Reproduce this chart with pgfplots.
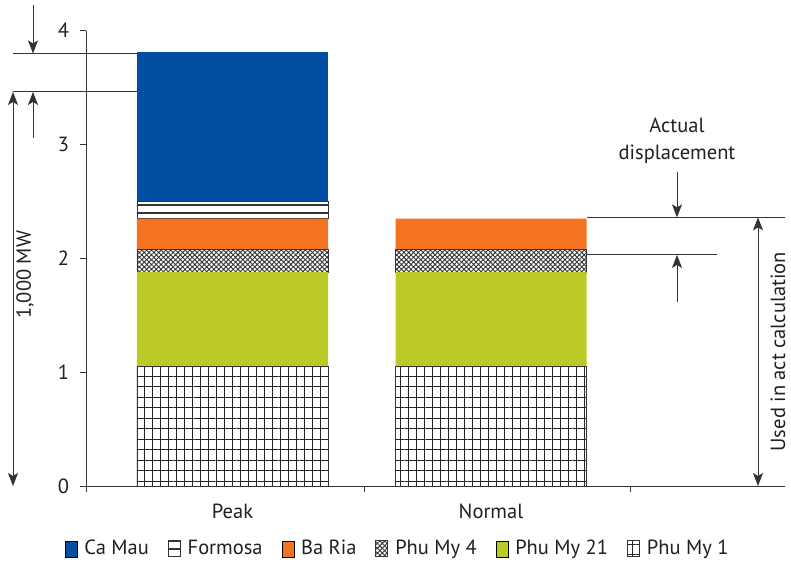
\documentclass[border=0pt]{standalone}
\usepackage{fontspec}
\setmainfont{PT Sans}
\usepackage{pgfplots}
\pgfplotsset{compat=1.18}
\usetikzlibrary{patterns,patterns.meta,arrows.meta}
\definecolor{camau}{HTML}{024EA2}
\definecolor{baria}{HTML}{F37321}
\definecolor{pmtw}{HTML}{BBCA27}
\definecolor{axc}{HTML}{333333}
\definecolor{txt}{HTML}{231F20}
\newcommand{\fs}{\fontsize{20.5bp}{24bp}\selectfont}
\begin{document}
\fs
\begin{tikzpicture}[>={Stealth[length=13bp,width=10bp,inset=3bp]}]
\begin{axis}[name=ax,
  scale only axis, width=699bp, height=455.3bp,
  xmin=86, xmax=785, ymin=0, ymax=4,
  axis lines*=left,
  ytick={0,1,2,3,4},
  xtick={86,364,630}, xticklabels={},
  extra x ticks={232.5,491}, extra x tick labels={Peak,Normal},
  extra x tick style={major tick length=0pt, tick label style={yshift=-11bp}},
  tick align=outside, major tick length=6bp,
  axis line style={axc, line width=0.9pt}, tick style={axc, line width=0.9pt},
  yticklabel style={xshift=-4bp},
  ybar stacked, bar width=191,
  clip=false,
  /pgf/number format/assume math mode=true,
  tick label style={font=\fs, text=txt},
  reverse legend,
  legend columns=6,
  legend style={at={(0.446,-0.138)}, anchor=center, draw=none, fill=none,
    font=\fs, text=txt,
    /tikz/every even column/.append style={column sep=17bp},
    /tikz/every odd column/.append style={column sep=5bp}},
  legend image code/.code={\draw[#1] (0bp,-8bp) rectangle (12bp,8bp);},
]
% Phu My 1
\addplot[draw=axc, line width=0.8pt,
  pattern={Lines[angle=90,distance=8bp,line width=0.9pt]}, pattern color=black!85,
  postaction={pattern={Lines[angle=0,distance=10.5bp,line width=0.9pt]}, pattern color=black!85}]
  coordinates {(232.5,1.05) (491,1.05)};
% Phu My 21
\addplot[fill=pmtw, draw=none] coordinates {(232.5,0.83) (491,0.83)};
% Phu My 4
\addplot[draw=axc, line width=0.8pt,
  pattern={Hatch[angle=45,distance=3.4bp,line width=0.9pt]}, pattern color=black!80]
  coordinates {(232.5,0.20) (491,0.20)};
% Ba Ria
\addplot[fill=baria, draw=none] coordinates {(232.5,0.27) (491,0.27)};
% Formosa
\addplot[draw=axc, line width=0.8pt,
  pattern={Lines[angle=0,distance=8bp,line width=1.2pt]}, pattern color=axc]
  coordinates {(232.5,0.15) (491,0)};
% Ca Mau
\addplot[fill=camau, draw=none] coordinates {(232.5,1.31) (491,0)};
\legend{Phu My 1, Phu My 21, Phu My 4, Ba Ria, Formosa, Ca Mau}

% annotations left
\draw[axc, line width=0.9pt] (axis cs:13,3.80) -- (axis cs:137,3.80);
\draw[axc, line width=0.9pt] (axis cs:13,3.462) -- (axis cs:137,3.462);
\draw[axc, line width=0.9pt, ->] (axis cs:33,4.227) -- (axis cs:33,3.80);
\draw[axc, line width=0.9pt, ->] (axis cs:33,3.058) -- (axis cs:33,3.462);
\draw[axc, line width=0.9pt, <->] (axis cs:13,3.462) -- (axis cs:13,0);
\node[rotate=90, text=txt, font=\fs] at (axis cs:25,1.855) {1,000 MW};
% annotations right
\draw[axc, line width=0.9pt] (axis cs:587,2.36) -- (axis cs:785,2.36);
\draw[axc, line width=0.9pt] (axis cs:587,2.03) -- (axis cs:717,2.03);
\draw[axc, line width=0.9pt, ->] (axis cs:677,2.76) -- (axis cs:677,2.36);
\draw[axc, line width=0.9pt, ->] (axis cs:677,1.617) -- (axis cs:677,2.03);
\draw[axc, line width=0.9pt, <->] (axis cs:758,2.36) -- (axis cs:758,0);
\node[align=center, text=txt, font=\fontsize{20.5bp}{27bp}\selectfont] at (axis cs:677,3.03) {Actual\\displacement};
\node[rotate=90, text=txt, font=\fs] at (axis cs:778,1.18) {Used in act calculation};
\end{axis}
\pgfresetboundingbox
\path ([shift={(-86bp,-79bp)}]ax.south west) rectangle ([shift={(6bp,30.7bp)}]ax.north east);
\end{tikzpicture}
\end{document}
